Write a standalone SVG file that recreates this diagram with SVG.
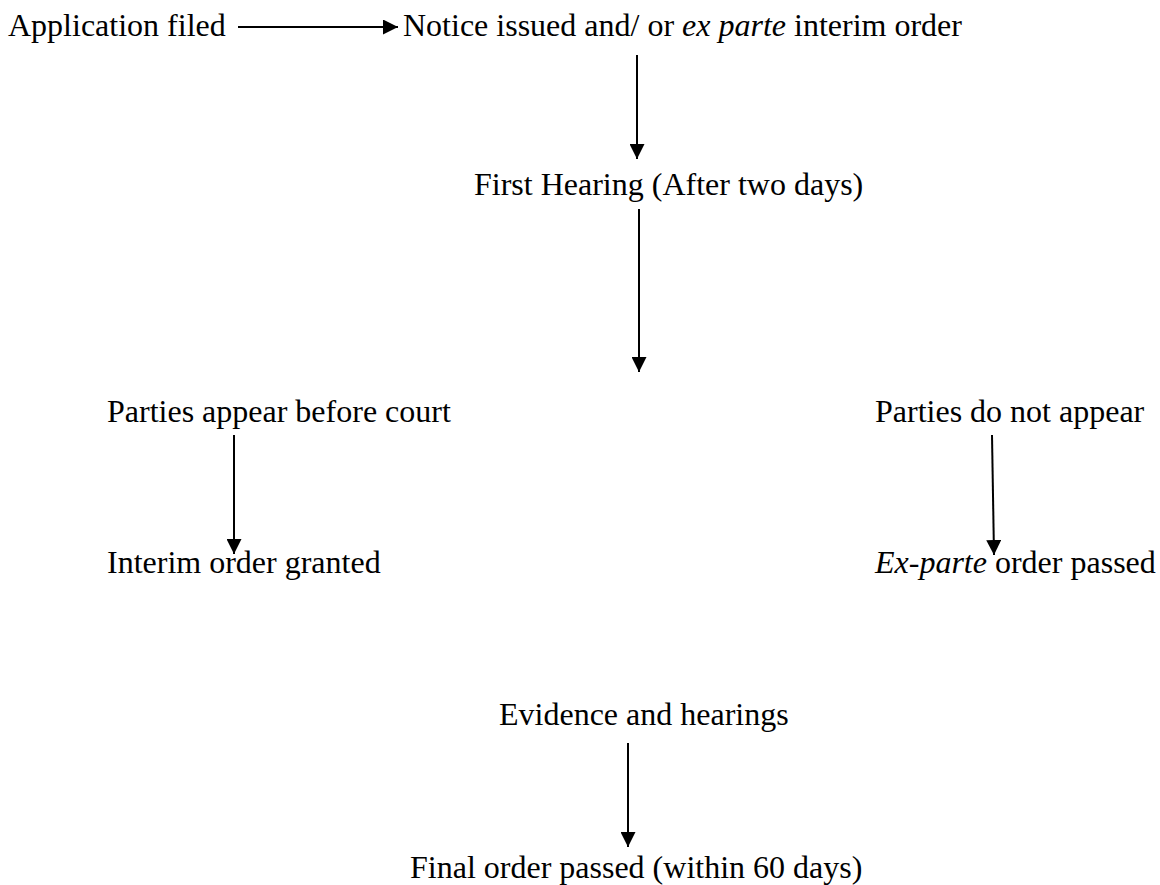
<svg xmlns="http://www.w3.org/2000/svg" width="1160" height="885" viewBox="0 0 1160 885">
<style>
text{font-family:"Liberation Serif","Times New Roman",serif;font-size:32px;fill:#000}
.it{font-style:italic}
.c line{stroke:#000;stroke-width:2}
</style>
<defs>
<marker id="ah" markerUnits="userSpaceOnUse" markerWidth="15" markerHeight="15" refX="15" refY="7.5" orient="auto">
<path d="M0,0 L15,7.5 L0,15 z" fill="#000"/>
</marker>
</defs>
<rect width="1160" height="885" fill="#fff"/>
<g id="n1"><text x="8" y="36">Application filed</text></g>
<g id="n2"><text x="403" y="36">Notice issued and/ or <tspan class="it">ex parte</tspan> interim order</text></g>
<g id="n3"><text x="474" y="195">First Hearing (After two days)</text></g>
<g id="n4"><text x="107" y="422">Parties appear before court</text></g>
<g id="n5"><text x="875" y="422">Parties do not appear</text></g>
<g id="n6"><text x="107" y="573">Interim order granted</text></g>
<g id="n7"><text x="875" y="573"><tspan class="it">Ex-parte</tspan> order passed</text></g>
<g id="n8"><text x="499" y="725">Evidence and hearings</text></g>
<g id="n9"><text x="410" y="878">Final order passed (within 60 days)</text></g>
<g id="connectors" class="c">
<line x1="238" y1="27" x2="398" y2="27" marker-end="url(#ah)"/>
<line x1="637" y1="55" x2="637" y2="159" marker-end="url(#ah)"/>
<line x1="639" y1="209" x2="639" y2="372" marker-end="url(#ah)"/>
<line x1="234" y1="435" x2="234" y2="554" marker-end="url(#ah)"/>
<line x1="992" y1="435" x2="994" y2="555" marker-end="url(#ah)"/>
<line x1="628" y1="743" x2="628" y2="847" marker-end="url(#ah)"/>
</g>
</svg>
